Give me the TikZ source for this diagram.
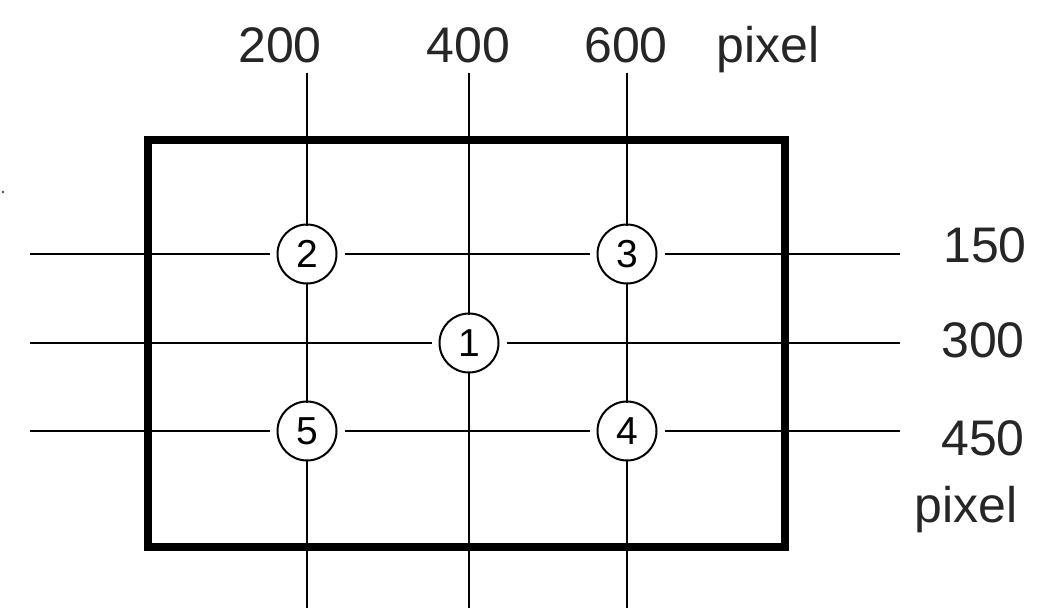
\documentclass[tikz,border=0pt]{standalone}
\usepackage{fontspec}
\setmainfont{Liberation Sans}
\begin{document}
\begin{tikzpicture}[x=1pt,y=-1pt,
  thinline/.style={line width=2pt,black},
  frame/.style={line width=8.5pt,black,line join=miter},
  pt/.style={circle,draw,line width=2pt,minimum size=59pt,inner sep=0pt,fill=white,font=\fontsize{39}{39}\selectfont},
  lab/.style={anchor=base,inner sep=0pt,font=\fontsize{50}{60}\selectfont,text=black!85}]
\useasboundingbox (0,0) rectangle (1059,610);
% frame
\draw[frame] (148,140) rectangle (785,547);
% coordinates of line ends
\coordinate (h1L) at (30,254);  \coordinate (h1R) at (900,254);
\coordinate (h2L) at (30,343);  \coordinate (h2R) at (900,343);
\coordinate (h3L) at (30,431);  \coordinate (h3R) at (900,431);
\coordinate (v1T) at (307,73);  \coordinate (v1B) at (307,608);
\coordinate (v2T) at (469,73);  \coordinate (v2B) at (469,608);
\coordinate (v3T) at (627,73);  \coordinate (v3B) at (627,608);
% points
\node[pt] (c1) at (469,343) {1};
\node[pt] (c2) at (307,254) {2};
\node[pt] (c3) at (627,254) {3};
\node[pt] (c4) at (627,431) {4};
\node[pt] (c5) at (307,431) {5};
% horizontal lines
\draw[thinline] (h1L) -- ([xshift=-7pt]c2.west);
\draw[thinline] ([xshift=7pt]c2.east) -- ([xshift=-7pt]c3.west);
\draw[thinline] ([xshift=7pt]c3.east) -- (h1R);
\draw[thinline] (h2L) -- ([xshift=-7pt]c1.west);
\draw[thinline] ([xshift=7pt]c1.east) -- (h2R);
\draw[thinline] (h3L) -- ([xshift=-7pt]c5.west);
\draw[thinline] ([xshift=7pt]c5.east) -- ([xshift=-7pt]c4.west);
\draw[thinline] ([xshift=7pt]c4.east) -- (h3R);
% vertical lines
\draw[thinline] (v1T) -- ([yshift=-2pt]c2.north);
\draw[thinline] ([yshift=2pt]c2.south) -- ([yshift=-2pt]c5.north);
\draw[thinline] ([yshift=2pt]c5.south) -- (v1B);
\draw[thinline] (v2T) -- ([yshift=-2pt]c1.north);
\draw[thinline] ([yshift=2pt]c1.south) -- (v2B);
\draw[thinline] (v3T) -- ([yshift=-2pt]c3.north);
\draw[thinline] ([yshift=2pt]c3.south) -- ([yshift=-2pt]c4.north);
\draw[thinline] ([yshift=2pt]c4.south) -- (v3B);
% labels
\node[lab] (t200) at (280,63) {200};
\node[lab] (t400) at (468.5,63) {400};
\node[lab] (t600) at (626,63) {600};
\node[lab] (tpx1) at (768,63) {pixel};
\node[lab] (t150) at (985,262) {150};
\node[lab] (t300) at (983,357) {300};
\node[lab] (t450) at (983,455) {450};
\node[lab] (tpx2) at (966,522) {pixel};
% stray dot
\fill[black!70] (3,192) circle (1.3);
\end{tikzpicture}
\end{document}
